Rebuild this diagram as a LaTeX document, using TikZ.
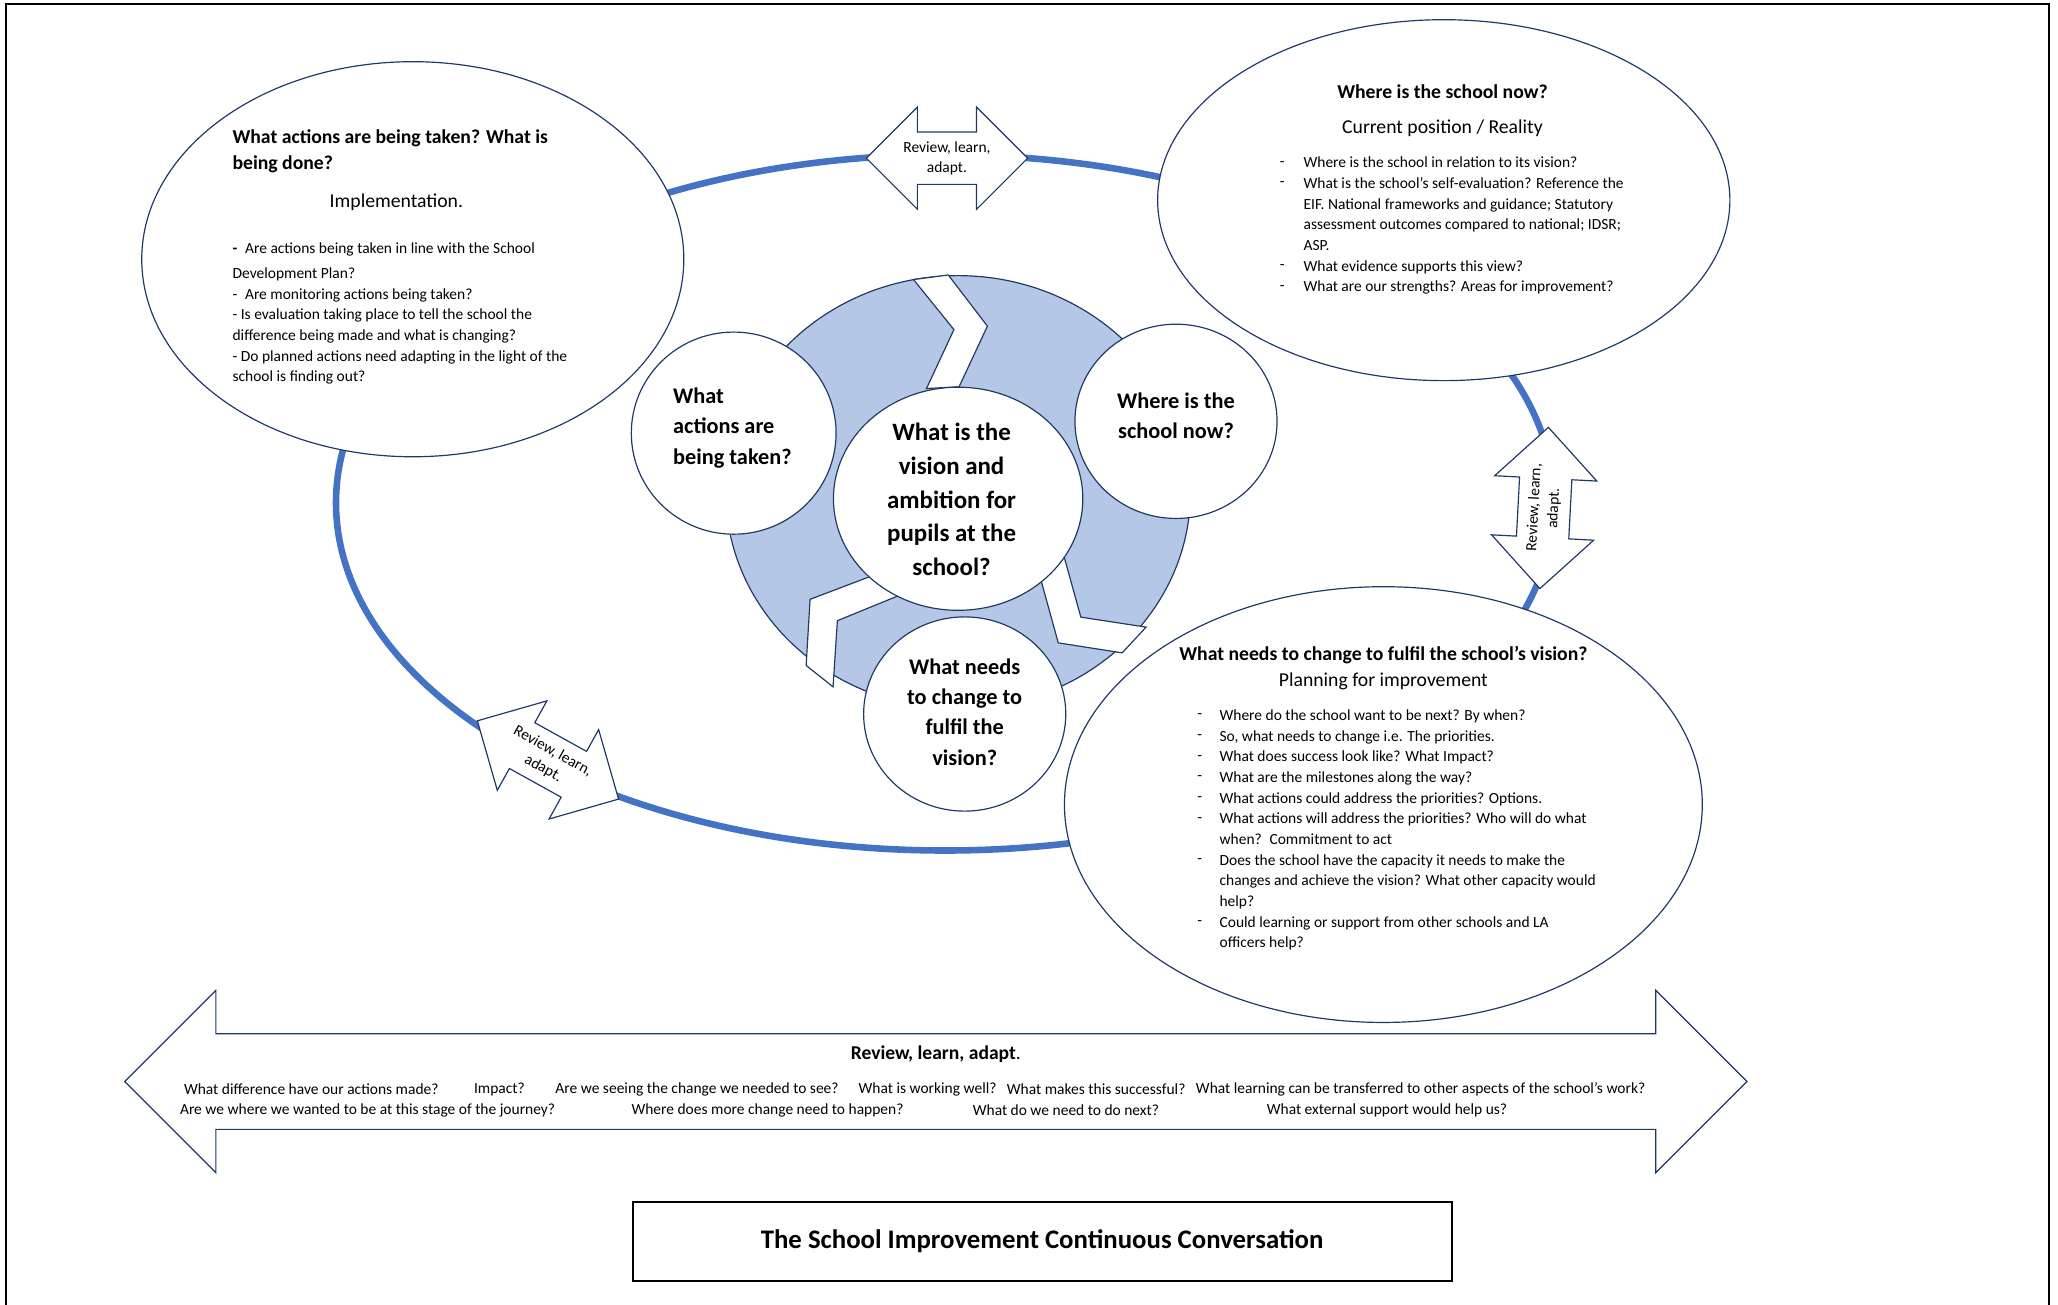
\documentclass[tikz,border=0pt]{standalone}
\usepackage{fontspec}
\setmainfont{Carlito}
\usetikzlibrary{shapes.geometric,shapes.arrows}

\definecolor{ringblue}{RGB}{68,114,196}
\definecolor{diskblue}{RGB}{180,199,231}
\definecolor{inkblue}{RGB}{32,56,100}

\begin{document}
\begin{tikzpicture}[x=1pt, y=-1pt]
        \tikzstyle{oval} = [ellipse, draw=inkblue, fill=white, line width=0.9pt, inner sep=0pt]
        \tikzstyle{bubbletext} = [inner sep=0pt, align=center, font=\bfseries\fontsize{17}{23}\selectfont]
        \tikzstyle{rla} = [double arrow, draw=inkblue, fill=white, line width=0.9pt, double arrow head extend=19pt, minimum width=77pt, minimum height=123pt, inner xsep=0pt, inner ysep=19.5pt]
        \tikzstyle{rlatext} = [inner sep=0pt, align=center, font=\fontsize{11.8}{15}\selectfont]
        \tikzstyle{chevron} = [draw=inkblue, fill=white, line width=0.9pt]
        \tikzstyle{heading} = [inner sep=0pt, font=\bfseries\fontsize{15}{20}\selectfont]
        \tikzstyle{subheading} = [inner sep=0pt, font=\fontsize{15}{16}\selectfont]
        \tikzstyle{notes} = [anchor=west, inner sep=0pt, align=left, font=\fontsize{11.8}{15.75}\selectfont]
        \tikzstyle{question} = [anchor=west, inner sep=0pt, font=\fontsize{11.8}{13}\selectfont]

        \useasboundingbox (0,0) rectangle (1568,994);
        \draw[line width=1.5pt] (4.5,994) -- (4.5,3) -- (1561,3) -- (1561,994);

        % the blue cycle runs behind everything
        \draw[ringblue, line width=5pt] (720,383) ellipse [x radius=464pt, y radius=265pt];

        \node [oval, minimum width=413pt, minimum height=301pt] (doing) at (314.5,197.5) {};
        \node [oval, minimum width=436pt, minimum height=275pt] (now) at (1100,152.5) {};
        \node [oval, minimum width=486pt, minimum height=332pt] (change) at (1054,613) {};

        % centre disc and its chevrons
        \node [oval, fill=diskblue, minimum width=354pt, minimum height=330pt] (disk) at (730,375) {};
        \draw [chevron] (696,213) -- (722.5,209.5) -- (752.3,248.5) -- (730.7,294.7) -- (705.9,296) -- (726.8,251.1) -- cycle;
        \draw [chevron] (663.9,438.9) -- (684.4,453.9) -- (638,472.9) -- (634.7,523.3) -- (614.2,507) -- (617.2,456.6) -- cycle;
        \draw [chevron] (810.3,422.6) -- (823.5,470.2) -- (873.2,477.8) -- (855,497.4) -- (806.3,489.8) -- (793,441.6) -- cycle;

        \node [oval, minimum width=156pt, minimum height=154pt] (acting) at (559,330) {};
        \node [oval, minimum width=154pt, minimum height=148pt] (where) at (896,321) {};
        \node [oval, minimum width=154pt, minimum height=148pt] (needs) at (735,544) {};
        \node [oval, minimum width=190pt, minimum height=170pt] (vision) at (730,380) {};
        \node [bubbletext, align=left] (actingtext) at (558,326) {What\\actions are\\being taken?};
        \node [bubbletext] (wheretext) at (896,316.5) {Where is the\\school now?};
        \node [bubbletext] (needstext) at (735,542.5) {What needs\\to change to\\fulfil the\\vision?};
        \node [bubbletext, font=\bfseries\fontsize{19}{25.7}\selectfont] (visiontext) at (725,380.5) {What is the\\vision and\\ambition for\\pupils at the\\school?};

        % review arrows on the cycle
        \node [rla] (rlatop) at (721.5,120.5) {};
        \node [rlatext] at (rlatop) {Review, learn,\\adapt.};
        \node [rla, rotate=87] (rlaright) at (1176.5,387) {};
        \node [rlatext, rotate=87] at (rlaright) {Review, learn,\\adapt.};
        \node [rla, rotate=-29] (rlaleft) at (417.5,579) {};
        \node [rlatext, rotate=-29] at (rlaleft) {Review, learn,\\adapt.};

        % implementation
        \node [heading, anchor=west, align=left] (doinghead) at (177,115) {What actions are being taken? What is\\being done?};
        \node [subheading] (doingsub) at (302,154) {Implementation.};
        \node [notes] (doingfirst) at (177,190) {\textbf{\large -}\enspace Are actions being taken in line with the School};
        \node [notes] (doinglist) at (177,248.5) {Development Plan?\\-\enspace Are monitoring actions being taken?\\- Is evaluation taking place to tell the school the\\difference being made and what is changing?\\- Do planned actions need adapting in the light of the\\school is finding out?};

        % current position
        \node [heading] (nowhead) at (1099,70) {Where is the school now?};
        \node [subheading] (nowsub) at (1099,98) {Current position / Reality};
        \node [notes] (nowdash) at (975,172) {-\\-\\ \\ \\ \\-\\-};
        \node [notes] (nowlist) at (993,172) {Where is the school in relation to its vision?\\What is the school’s self-evaluation? Reference the\\EIF. National frameworks and guidance; Statutory\\assessment outcomes compared to national; IDSR;\\ASP.\\What evidence supports this view?\\What are our strengths? Areas for improvement?};

        % planning
        \node [heading] (changehead) at (1054,499) {What needs to change to fulfil the school’s vision?};
        \node [subheading] (changesub) at (1054,519) {Planning for improvement};
        \node [notes] (changedash) at (912,632.5) {-\\-\\-\\-\\-\\-\\ \\-\\ \\ \\-\\ };
        \node [notes] (changelist) at (929,632.5) {Where do the school want to be next? By when?\\So, what needs to change i.e. The priorities.\\What does success look like? What Impact?\\What are the milestones along the way?\\What actions could address the priorities? Options.\\What actions will address the priorities? Who will do what\\when?\enspace Commitment to act\\Does the school have the capacity it needs to make the\\changes and achieve the vision? What other capacity would\\help?\\Could learning or support from other schools and LA\\officers help?};

        % the long review arrow
        \node [rla, minimum width=138pt, minimum height=1236pt, inner ysep=36pt, double arrow head extend=33pt] (review) at (713,824) {};
        \node [inner sep=0pt, font=\bfseries\fontsize{14.9}{16}\selectfont] (reviewhead) at (713,803) {Review, learn, adapt\mdseries.};
        \node [question] (q1) at (140,830) {What difference have our actions made?};
        \node [question] (q2) at (361,830) {Impact?};
        \node [question] (q3) at (423,830) {Are we seeing the change we needed to see?};
        \node [question] (q4) at (654,830) {What is working well?};
        \node [question] (q5) at (767,830) {What makes this successful?};
        \node [question] (q6) at (911,830) {What learning can be transferred to other aspects of the school’s work?};
        \node [question] (q7) at (137,846) {Are we where we wanted to be at this stage of the journey?};
        \node [question] (q8) at (481,846) {Where does more change need to happen?};
        \node [question] (q9) at (741,846) {What do we need to do next?};
        \node [question] (q10) at (965,846) {What external support would help us?};

        \node [draw, line width=1.5pt, minimum width=624pt, minimum height=60pt, font=\bfseries\fontsize{20.4}{24}\selectfont] (title) at (794,946) {The School Improvement Continuous Conversation};
    \end{tikzpicture}
\end{document}
